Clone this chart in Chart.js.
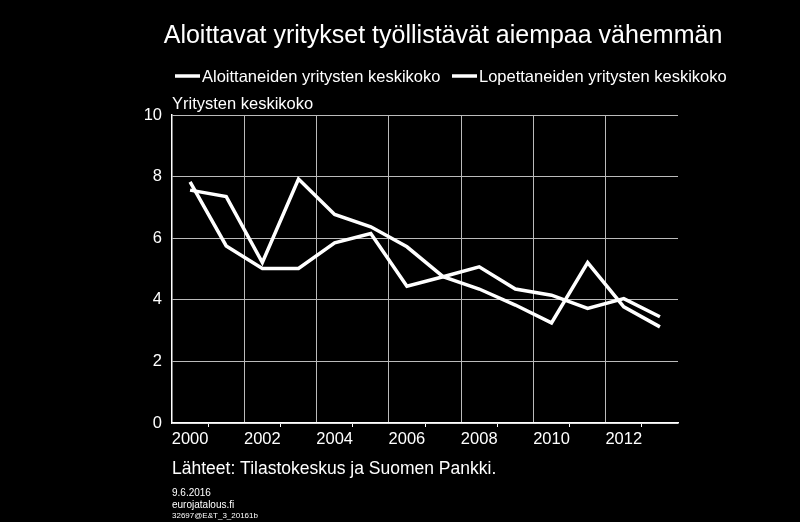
<!DOCTYPE html>
<html>
<head>
<meta charset="utf-8">
<script src="https://cdn.jsdelivr.net/npm/chart.js@4"></script>
<style>
  html, body { margin: 0; padding: 0; background: #000; }
  #wrap { width: 800px; height: 522px; }
</style>
</head>
<body>
<div id="wrap"><canvas id="chart" width="800" height="522"></canvas></div>
<script>
// --- DATA ---
const years = ['2000','2001','2002','2003','2004','2005','2006','2007','2008','2009','2010','2011','2012','2013'];
const seriesNames = ['Aloittaneiden yritysten keskikoko', 'Lopettaneiden yritysten keskikoko'];
const startedAvg = [7.83, 5.75, 5.02, 5.02, 5.85, 6.15, 4.44, 4.75, 5.07, 4.35, 4.15, 3.72, 4.04, 3.45];
const closedAvg  = [7.56, 7.35, 5.21, 7.92, 6.77, 6.37, 5.72, 4.75, 4.35, 3.83, 3.25, 5.21, 3.77, 3.12];
const yTicks = [0, 2, 4, 6, 8, 10];

const FONT = 'Liberation Sans, Arial, sans-serif';

// Title, legend and notes drawn around the plot
const textPlugin = {
    id: 'texts',
    afterDraw(chart) {
        const ctx = chart.ctx;
        ctx.save();
        ctx.fillStyle = '#fff';
        ctx.textBaseline = 'alphabetic';

        ctx.font = '25px ' + FONT;
        ctx.textAlign = 'center';
        ctx.fillText('Aloittavat yritykset työllistävät aiempaa vähemmän', 443, 43);

        // Legend
        ctx.font = '16.5px ' + FONT;
        ctx.textAlign = 'left';
        ctx.strokeStyle = '#fff';
        ctx.lineWidth = 3.5;
        const legendX = [175, 452];
        seriesNames.forEach((name, i) => {
            ctx.beginPath();
            ctx.moveTo(legendX[i], 76);
            ctx.lineTo(legendX[i] + 25, 76);
            ctx.stroke();
            ctx.fillText(name, legendX[i] + 27, 82);
        });

        ctx.font = '16.5px ' + FONT;
        ctx.fillText('Yritysten keskikoko', 172, 109);
        ctx.font = '17.5px ' + FONT;
        ctx.fillText('Lähteet: Tilastokeskus ja Suomen Pankki.', 172, 474);

        ctx.font = '10px ' + FONT;
        ctx.fillText('9.6.2016', 172, 496);
        ctx.fillText('eurojatalous.fi', 172, 508);
        ctx.font = '8px ' + FONT;
        ctx.fillText('32697@E&T_3_20161b', 172, 518);
        ctx.restore();
    }
};

const lineStyle = { borderColor: '#fff', borderWidth: 3.5, pointRadius: 0, tension: 0, fill: false };

new Chart(document.getElementById('chart').getContext('2d'), {
    type: 'line',
    data: {
        labels: years,
        datasets: [
            { label: seriesNames[0], data: startedAvg, ...lineStyle },
            { label: seriesNames[1], data: closedAvg, ...lineStyle }
        ]
    },
    options: {
        responsive: false,
        animation: false,
        layout: { padding: { left: 110, right: 122, top: 115, bottom: 69 } },
        plugins: { legend: { display: false }, title: { display: false }, tooltip: { enabled: false } },
        scales: {
            x: {
                offset: true,
                afterFit: s => { s.height = 30; },
                border: { color: '#fff', width: 1.5 },
                grid: {
                    offset: true,
                    color: c => (c.index % 2 === 0 ? '#bbb' : 'transparent'),
                    tickColor: c => (c.index % 2 === 1 ? '#fff' : 'transparent'),
                    tickLength: 4
                },
                ticks: {
                    color: '#fff',
                    font: { family: FONT, size: 16.5 },
                    autoSkip: false,
                    maxRotation: 0,
                    callback: (v, i) => (i % 2 === 0 ? years[i] : '')
                }
            },
            y: {
                min: yTicks[0],
                max: yTicks[yTicks.length - 1],
                afterFit: s => { s.width = 62; },
                afterBuildTicks: s => { s.ticks = yTicks.map(v => ({ value: v })); },
                border: { color: '#fff', width: 1.5 },
                grid: { color: '#bbb', tickLength: 0 },
                ticks: { color: '#fff', font: { family: FONT, size: 16.5 }, padding: 10 }
            }
        }
    },
    plugins: [textPlugin]
});
</script>
</body>
</html>
